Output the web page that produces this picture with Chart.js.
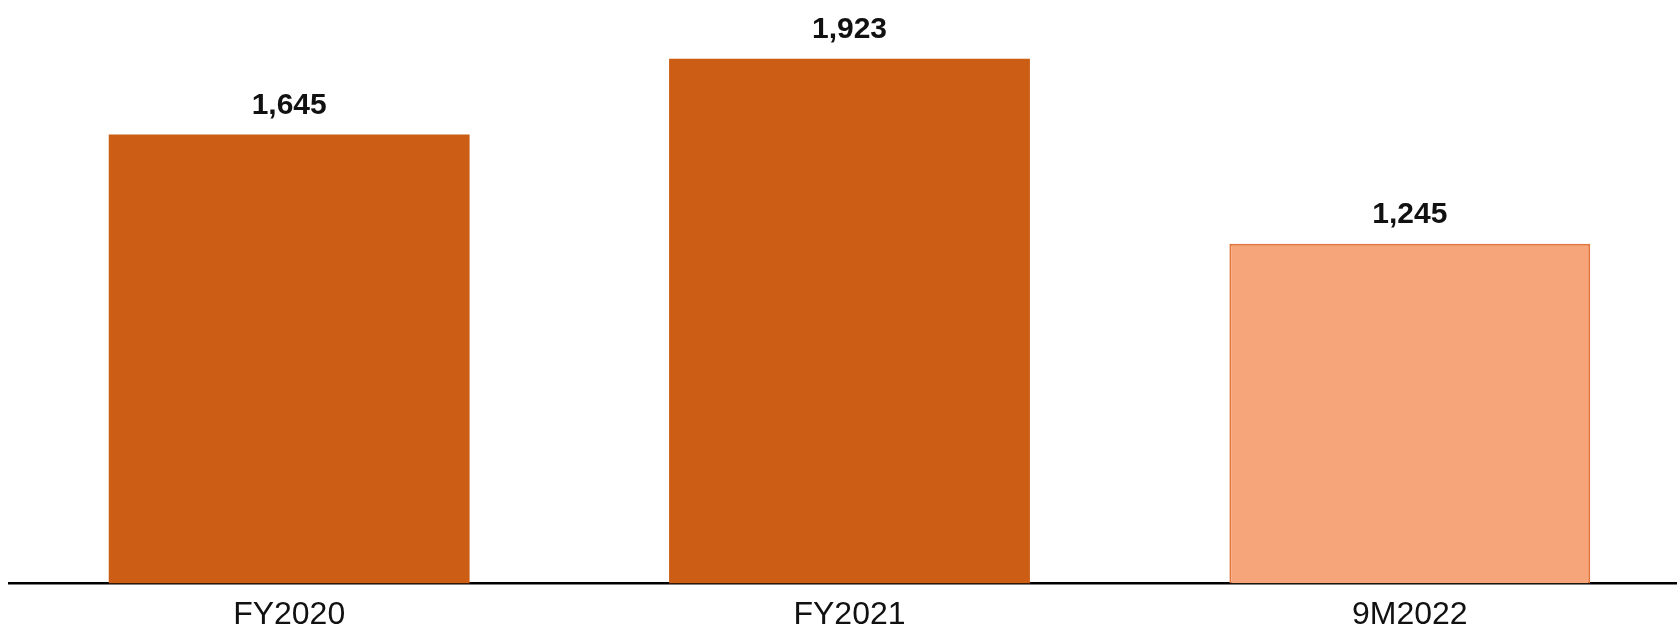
<!DOCTYPE html>
<html lang="en">
<head>
    <meta charset="UTF-8">
    <title>Chart</title>
    <script src="https://cdn.jsdelivr.net/npm/chart.js"></script>
    <style>
        html, body{
            margin: 0;
            padding: 0;
            background: #fff;
            overflow: hidden;
        }
        .wrap{
            width: 1700px;
            height: 646px;
            position: relative;
        }
    </style>
</head>
<body>
    <div class="wrap">
        <canvas id="myChart"></canvas>
    </div>
<script>
    const labels = ['FY2020', 'FY2021', '9M2022'];
    const values = [1645, 1923, 1245];
    const fills = ['#CB5E14', '#CB5E14', '#F6A47A'];
    const borders = ['#CB5E14', '#CB5E14', '#E3753A'];

    // draws the numbers above each bar
    const valueLabels = {
        id: 'valueLabels',
        afterDatasetsDraw(chart) {
            const ctx = chart.ctx;
            const meta = chart.getDatasetMeta(0);
            ctx.save();
            ctx.font = 'bold 30px "Liberation Sans", Arial, sans-serif';
            ctx.fillStyle = '#111';
            ctx.textAlign = 'center';
            ctx.textBaseline = 'middle';
            meta.data.forEach((bar, i) => {
                ctx.fillText(values[i].toLocaleString('en-US'), bar.x, bar.y - 29);
            });
            ctx.restore();
        }
    };

    const ctx = document.querySelector('#myChart');
    const myChart = new Chart(ctx, {
        type: 'bar',
        data: {
            labels: labels,
            datasets: [{
                data: values,
                backgroundColor: fills,
                borderColor: borders,
                borderWidth: [0, 0, 2],
                borderSkipped: 'bottom',
                barPercentage: 0.644,
                categoryPercentage: 1
            }]
        },
        options: {
            responsive: true,
            maintainAspectRatio: false,
            animation: false,
            layout: {
                padding: { left: 9, right: 10, top: 0, bottom: 0 }
            },
            plugins: {
                legend: { display: false },
                tooltip: { enabled: false }
            },
            scales: {
                x: {
                    grid: { display: false, drawTicks: false },
                    border: { display: true, color: '#000', width: 2.5 },
                    ticks: {
                        color: '#111',
                        padding: 12,
                        font: { family: '"Liberation Sans", Arial, sans-serif', size: 32 }
                    }
                },
                y: {
                    display: false,
                    min: 0,
                    max: 2138
                }
            }
        },
        plugins: [valueLabels]
    });
</script>
</body>
</html>
